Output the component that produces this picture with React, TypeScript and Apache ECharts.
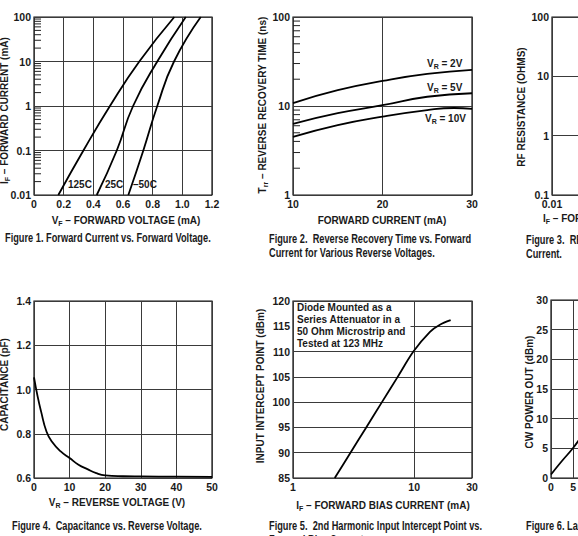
import React, { useEffect, useRef } from "react";
import * as echarts from "echarts";

// Figure 1: forward current (mA) vs forward voltage for three temperatures
const vf125C = [[0.164, 0.01], [0.333, 0.1], [0.512, 1], [0.71, 10], [0.946, 100]];
const vf25C = [[0.423, 0.01], [0.558, 0.1], [0.668, 1], [0.831, 10], [1.023, 100]];
const vfMinus50C = [[0.636, 0.01], [0.737, 0.1], [0.831, 1], [0.944, 10], [1.124, 100]];

// Figure 2: reverse recovery time (ns) vs forward current (mA)
const trr2V = [[10, 10.8], [15, 15.1], [20, 19.1], [25, 22.9], [30, 25.4]];
const trr5V = [[10, 6.3], [15, 8.3], [20, 10.2], [25, 12.7], [30, 13.9]];
const trr10V = [[10, 4.5], [15, 6.1], [20, 7.6], [25, 9.0], [28, 9.5], [30, 9.3]];

// Figure 4: capacitance (pF) vs reverse voltage (V)
const capacitance = [
  [0, 1.055], [1, 0.97], [2, 0.9], [3.5, 0.81], [5, 0.765], [7.5, 0.72], [10, 0.69],
  [12.5, 0.66], [15, 0.64], [17.5, 0.622], [20, 0.612], [25, 0.608], [30, 0.607],
  [40, 0.606], [50, 0.605],
];

// Figure 5: input intercept point (dBm) vs forward bias current (mA)
const intercept = [
  [2.21, 85], [2.98, 90], [4.02, 95], [5.42, 100], [7.31, 105], [9.85, 110],
  [13.5, 113.9], [16.3, 115.3], [20, 116.2],
];

// Figure 6: CW power out (dBm)
const cwPower = [[0, 0.6], [2.5, 2.9], [5, 5.1], [7, 7.2]];

const FONT = "'Liberation Sans', Arial, Helvetica, sans-serif";
const CAPTION_FONT = "'Liberation Sans', Arial, sans-serif";
const INK = "#1a1a1a";

// log-decade minor tick values (2..9 of each decade)
function decadeMinors(lo: number, hi: number) {
  const out: number[] = [];
  for (let e = lo; e < hi; e++) for (let k = 2; k <= 9; k++) out.push(k * Math.pow(10, e));
  return out;
}
const minorTicksFig1 = decadeMinors(-2, 2);
const minorTicksFig2 = decadeMinors(0, 2);

const gridBoxes = [
  { left: 34, top: 17, width: 178, height: 178 },
  { left: 293, top: 17, width: 179, height: 178 },
  { left: 552, top: 17, width: 179, height: 178 },
  { left: 34, top: 301, width: 178, height: 177 },
  { left: 293, top: 301, width: 179, height: 177 },
  { left: 551, top: 300, width: 178, height: 178 },
];

function axis(extra: any) {
  const { axisLabel, ...rest } = extra;
  return {
    axisLine: { show: false },
    axisTick: { show: false },
    splitLine: { show: true, lineStyle: { color: "#3a3a3a", width: 1 } },
    axisLabel: {
      color: INK, fontSize: 10.5, fontWeight: "bold", fontFamily: FONT, margin: 3,
      ...(axisLabel || {}),
    },
    ...rest,
  };
}

function curve(data: number[][], idx: number, smooth: number | boolean = true) {
  return {
    type: "line", xAxisIndex: idx, yAxisIndex: idx, data, smooth,
    showSymbol: false, silent: true,
    lineStyle: { color: "#000", width: 1.8 },
  };
}

function minorTickSeries(values: number[], idx: number, xAt: number) {
  return {
    type: "custom", xAxisIndex: idx, yAxisIndex: idx, silent: true,
    data: values.map((v) => [xAt, v]),
    renderItem: (_p: any, api: any) => {
      const p = api.coord([api.value(0), api.value(1)]);
      return {
        type: "line",
        shape: { x1: p[0], y1: p[1], x2: p[0] + 7, y2: p[1] },
        style: { stroke: "#222", lineWidth: 1 },
      };
    },
  };
}

const richBase = {
  b: { fontSize: 10, fontWeight: "bold", fontFamily: FONT, fill: INK },
  s: { fontSize: 7, fontWeight: "bold", fontFamily: FONT, fill: INK, padding: [6, 0, 0, 0] },
};

function label(x: number, y: number, text: string, opts: any = {}) {
  return {
    type: "text", x, y, z: 100, silent: true,
    style: {
      text, rich: richBase, fontFamily: FONT, fontSize: 10, fontWeight: "bold", fill: INK,
      align: "center", verticalAlign: "middle", ...opts,
    },
  };
}

function vlabel(x: number, y: number, text: string, align = "center") {
  return { ...label(x, y, text, { align }), rotation: Math.PI / 2 };
}

// captions use a condensed bold face, narrowed horizontally
function caption(x: number, y: number, text: string) {
  return {
    type: "text", x, y, z: 100, silent: true, scaleX: 0.74, scaleY: 1,
    style: {
      text, fontFamily: CAPTION_FONT, fontSize: 12.5, fontWeight: "bold", fill: INK,
      align: "left", verticalAlign: "middle",
    },
  };
}

const fixed1 = (v: number) => (Math.abs(v) < 1e-9 ? "0" : v.toFixed(1));

export default function App() {
  const ref = useRef<HTMLDivElement>(null);

  useEffect(() => {
    document.body.style.margin = "0";
    document.body.style.overflow = "hidden";
    if (!ref.current) return;
    const chart = echarts.init(ref.current, undefined, { renderer: "svg" });

    const option: any = {
      animation: false,
      backgroundColor: "#fff",
      grid: gridBoxes.map((g) => ({
        ...g, show: true, borderColor: "#111", borderWidth: 1.2,
        containLabel: false, outerBoundsMode: "none",
      })),
      xAxis: [
        axis({ type: "value", gridIndex: 0, min: 0, max: 1.2, interval: 0.2, axisLabel: { formatter: fixed1 } }),
        axis({ type: "value", gridIndex: 1, min: 10, max: 30, interval: 10 }),
        axis({ type: "log", logBase: 10, gridIndex: 2, min: 0.01, max: 100 }),
        axis({ type: "value", gridIndex: 3, min: 0, max: 50, interval: 10 }),
        axis({ type: "log", logBase: 10, gridIndex: 4, min: 1, max: 30 }),
        axis({ type: "value", gridIndex: 5, min: 0, max: 40, interval: 5 }),
      ],
      yAxis: [
        axis({ type: "log", logBase: 10, gridIndex: 0, min: 0.01, max: 100 }),
        axis({ type: "log", logBase: 10, gridIndex: 1, min: 1, max: 100 }),
        axis({ type: "log", logBase: 10, gridIndex: 2, min: 0.1, max: 100 }),
        axis({ type: "value", gridIndex: 3, min: 0.6, max: 1.4, interval: 0.2, axisLabel: { formatter: fixed1 } }),
        axis({ type: "value", gridIndex: 4, min: 85, max: 120, interval: 5 }),
        axis({ type: "value", gridIndex: 5, min: 0, max: 30, interval: 5 }),
      ],
      series: [
        minorTickSeries(minorTicksFig1, 0, 0),
        minorTickSeries(minorTicksFig2, 1, 10),
        curve(vf125C, 0),
        curve(vf25C, 0),
        curve(vfMinus50C, 0),
        curve(trr2V, 1),
        curve(trr5V, 1),
        curve(trr10V, 1),
        { type: "line", xAxisIndex: 2, yAxisIndex: 2, data: [] },
        curve(capacitance, 3),
        curve(intercept, 4, 0.3),
        curve(cwPower, 5),
      ],
      graphic: [
        // Figure 1
        label(68, 184.5, "125C", { align: "left" }),
        label(105, 184.5, "25C", { align: "left" }),
        label(133, 184.5, "–50C", { align: "left" }),
        label(126, 220, "{b|V}{s|F}{b| – FORWARD VOLTAGE (mA)}"),
        vlabel(4, 184, "{b|I}{s|F}{b| – FORWARD CURRENT (mA)}", "left"),
        caption(5, 237, "Figure 1. Forward Current vs. Forward Voltage."),
        // Figure 2
        label(427, 63, "{b|V}{s|R}{b| = 2V}", { align: "left" }),
        label(427, 87, "{b|V}{s|R}{b| = 5V}", { align: "left" }),
        label(425, 118, "{b|V}{s|R}{b| = 10V}", { align: "left" }),
        label(382, 220, "FORWARD CURRENT (mA)"),
        vlabel(262, 105, "{b|T}{s|rr}{b| – REVERSE RECOVERY TIME (ns)}"),
        caption(269, 238, "Figure 2.  Reverse Recovery Time vs. Forward"),
        caption(269, 252.5, "Current for Various Reverse Voltages."),
        // Figure 3
        vlabel(521, 107, "RF RESISTANCE (OHMS)"),
        label(543, 218, "{b|I}{s|F}{b| – FORWARD BIAS CURRENT (mA)}", { align: "left" }),
        caption(526, 239, "Figure 3.  RF Resistance vs. Forward Bias"),
        caption(526, 253.5, "Current."),
        // Figure 4
        label(117, 502, "{b|V}{s|R}{b| – REVERSE VOLTAGE (V)}"),
        vlabel(4, 431, "CAPACITANCE (pF)", "left"),
        caption(12, 525, "Figure 4.  Capacitance vs. Reverse Voltage."),
        // Figure 5
        { type: "rect", z: 90, silent: true, shape: { x: 294, y: 302, width: 116.5, height: 47.5 }, style: { fill: "#fff" } },
        label(297, 307, "Diode Mounted as a", { align: "left" }),
        label(297, 319.3, "Series Attenuator in a", { align: "left" }),
        label(297, 331.6, "50 Ohm Microstrip and", { align: "left" }),
        label(297, 343.9, "Tested at 123 MHz", { align: "left" }),
        label(383, 505, "{b|I}{s|F}{b| – FORWARD BIAS CURRENT (mA)}"),
        vlabel(260, 386, "INPUT INTERCEPT POINT (dBm)"),
        caption(269, 525, "Figure 5.  2nd Harmonic Input Intercept Point vs."),
        caption(269, 539.5, "Forward Bias Current."),
        // Figure 6
        vlabel(529.5, 392, "CW POWER OUT (dBm)"),
        caption(526, 525, "Figure 6. Large Signal Transfer Curve."),
      ],
    };

    chart.setOption(option);
    return () => chart.dispose();
  }, []);

  return <div ref={ref} style={{ width: 578, height: 536 }} />;
}
